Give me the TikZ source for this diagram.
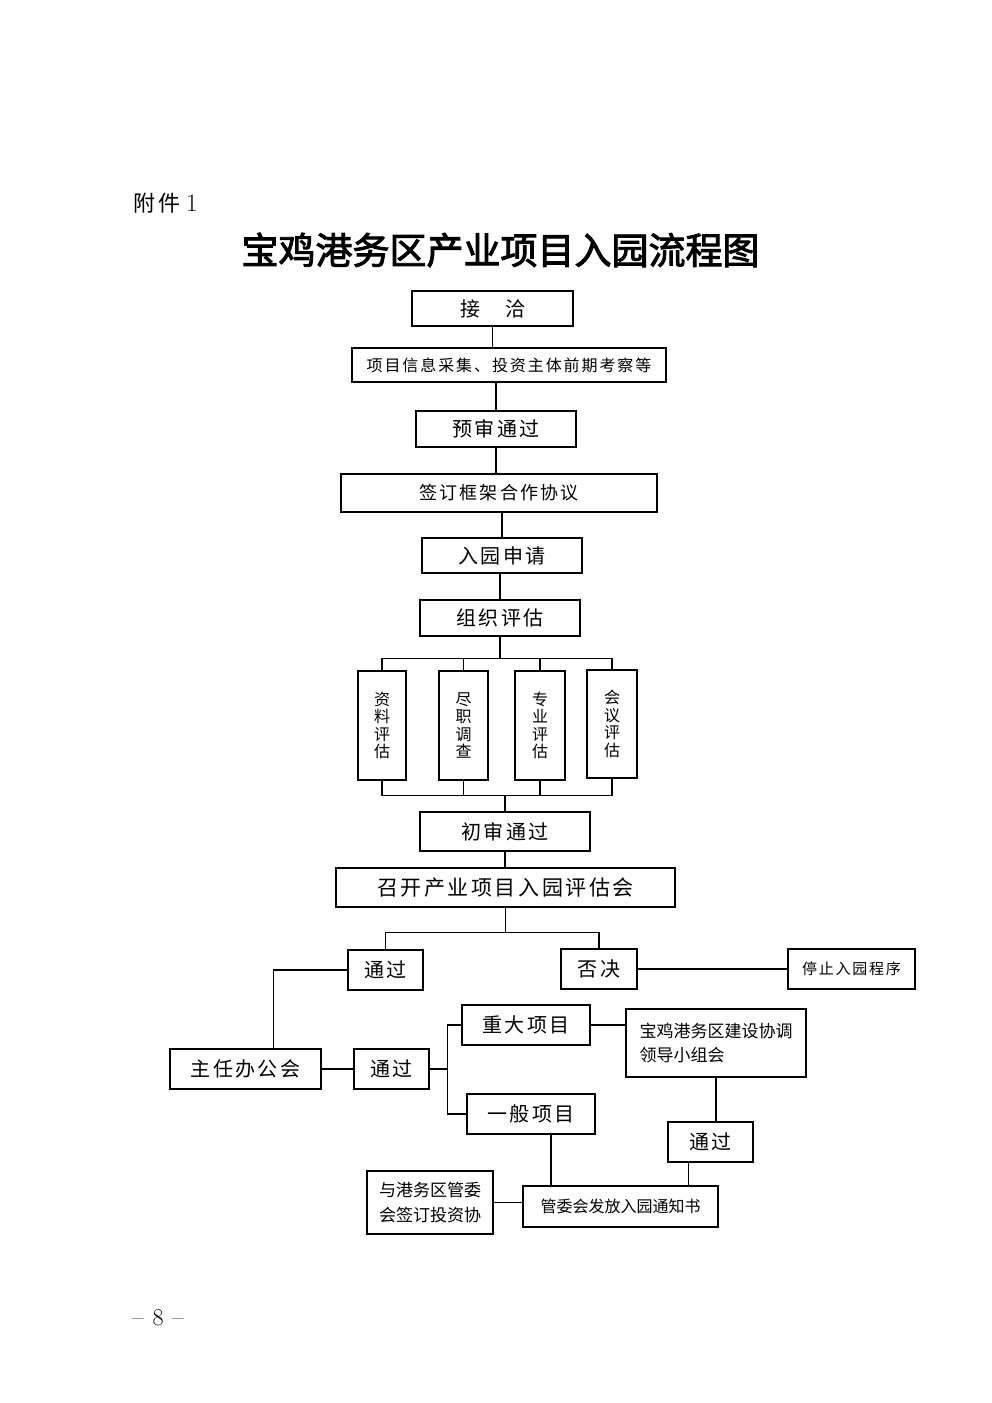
\documentclass[tikz,border=0pt]{standalone}
\usepackage{fontspec}
\usepackage{tikz}
\newfontfamily\cjk{Noto Sans CJK SC}
\newfontfamily\cjksp[LetterSpace=12]{Noto Sans CJK SC}
\newfontfamily\cjkbf[FakeBold=2.5]{Noto Sans CJK SC}

\begin{document}
\begin{tikzpicture}[x=1pt,y=-1pt,line width=1.2pt]
\tikzstyle{every node}=[inner sep=0pt];
\tikzstyle{box}=[draw,shape=rectangle,font=\cjksp\fontsize{20}{24}\selectfont];
\tikzstyle{smallbox}=[draw,shape=rectangle,font=\cjksp\fontsize{16}{19}\selectfont];
\tikzstyle{midbox}=[draw,shape=rectangle,font=\cjksp\fontsize{18}{21}\selectfont];
\tikzstyle{vbox}=[draw,shape=rectangle,align=center,font=\cjk\fontsize{16}{17.5}\selectfont];
\tikzstyle{twoline}=[draw,shape=rectangle,align=left,font=\cjk\fontsize{17}{24.5}\selectfont];
\fill[white] (0,0) rectangle (992,1403);
\useasboundingbox (0,0) rectangle (992,1403);

% heading
\node[anchor=west,font=\fontsize{25}{28}\selectfont] (fujian) at (133,203) {{\cjksp\fontsize{22}{26}\selectfont 附件}\hspace{6pt}1};
\node[font=\cjkbf\fontsize{37}{41}\selectfont] (title) at (500.5,250) {宝鸡港务区产业项目入园流程图};

% main column
\node[box,minimum width=161,minimum height=35] (jieqia) at (492.5,308.5) {接\hspace{25pt}洽};
\node[smallbox,minimum width=314,minimum height=34] (xinxi) at (509,365) {项目信息采集、投资主体前期考察等};
\node[box,minimum width=160,minimum height=36] (yushen) at (496,429) {预审通过};
\node[midbox,minimum width=316,minimum height=38] (kuangjia) at (499,493) {签订框架合作协议};
\node[box,minimum width=160,minimum height=35] (shenqing) at (502,555.5) {入园申请};
\node[box,minimum width=160,minimum height=36] (zuzhi) at (500,618) {组织评估};

% four assessments
\node[vbox,minimum width=48,minimum height=109] (ziliao) at (382,725.5) {资\\料\\评\\估};
\node[vbox,minimum width=49,minimum height=109] (jinzhi) at (463.5,725.5) {尽\\职\\调\\查};
\node[vbox,minimum width=50,minimum height=109] (zhuanye) at (540,725.5) {专\\业\\评\\估};
\node[vbox,minimum width=50,minimum height=108] (huiyi) at (612,724) {会\\议\\评\\估};

\node[box,minimum width=170,minimum height=39] (chushen) at (505,831.5) {初审通过};
\node[box,font=\cjksp\fontsize{21}{25}\selectfont,minimum width=339,minimum height=39] (zhaokai) at (505.5,887.5) {召开产业项目入园评估会};

% decision
\node[box,minimum width=75,minimum height=40] (tongguo1) at (385.5,970) {通过};
\node[box,minimum width=76,minimum height=40] (foujue) at (599,969) {否决};
\node[draw,shape=rectangle,font=\cjksp\fontsize{15}{18}\selectfont,minimum width=127,minimum height=40] (tingzhi) at (851.5,969) {停止入园程序};
\node[box,minimum width=151,minimum height=40] (zhuren) at (245.5,1069) {主任办公会};
\node[box,minimum width=75,minimum height=40] (tongguo2) at (391.5,1069) {通过};
\node[box,minimum width=128,minimum height=40] (zhongda) at (526,1025) {重大项目};
\node[box,minimum width=128,minimum height=40] (yiban) at (531,1114) {一般项目};
\node[twoline,minimum width=180,minimum height=68] (xietiao) at (716,1043) {宝鸡港务区建设协调\\领导小组会};
\node[box,minimum width=85,minimum height=40] (tongguo3) at (710.5,1142) {通过};
\node[draw,shape=rectangle,font=\cjk\fontsize{16}{19}\selectfont,minimum width=195,minimum height=41] (tongzhi) at (620.5,1206.5) {管委会发放入园通知书};
\node[twoline,minimum width=126,minimum height=63] (qianding) at (430,1202.5) {与港务区管委\\会签订投资协};

% page number
\node[anchor=west,font=\fontsize{24}{28}\selectfont] (page) at (132,1318) {--\hspace{9pt}8\hspace{9pt}--};

% connectors
\coordinate (bustop) at ([yshift=-22pt]zuzhi.south);
\coordinate (busbot) at ([yshift=16pt]chushen.north);
\coordinate (busmid) at ([yshift=-25pt]zhaokai.south);
\coordinate (fork) at ([xshift=18pt]tongguo2.east);
\coordinate (zr) at ([xshift=28pt]zhuren.north);
\coordinate (yb) at ([xshift=20pt]yiban.south);
\coordinate (tg) at ([xshift=-22pt]tongguo3.south);

\draw (jieqia.south) -- (jieqia.south |- xinxi.north);
\draw (yushen.north |- xinxi.south) -- (yushen.north);
\draw (yushen.south) -- (yushen.south |- kuangjia.north);
\draw (shenqing.north |- kuangjia.south) -- (shenqing.north);
\draw (zuzhi.north |- shenqing.south) -- (zuzhi.north);
\draw (zuzhi.south) -- (bustop);
\draw (ziliao.north) -- (ziliao.north |- bustop) -- (huiyi.north |- bustop) -- (huiyi.north);
\draw (ziliao.south) -- (ziliao.south |- busbot) -- (huiyi.south |- busbot) -- (huiyi.south);
\foreach \n in {jinzhi,zhuanye} {
	\draw (\n.north) -- (\n.north |- bustop);
	\draw (\n.south) -- (\n.south |- busbot);
}
\draw (busbot) -- (chushen.north);
\draw (chushen.south) -- (chushen.south |- zhaokai.north);
\draw (zhaokai.south) -- (busmid);
\draw (tongguo1.north) -- (tongguo1.north |- busmid) -- (foujue.north |- busmid) -- (foujue.north);
\draw (foujue.east) -- (tingzhi.west);
\draw (tongguo1.west) -| (zr);
\draw (zhuren.east) -- (tongguo2.west);
\draw (tongguo2.east) -- (fork);
\draw (zhongda.west) -| (fork) |- (yiban.west);
\draw (zhongda.east) -- (zhongda.east -| xietiao.west);
\draw (xietiao.south) -- (xietiao.south |- tongguo3.north);
\draw (yb) -- (yb |- tongzhi.north);
\draw (tg) -- (tg |- tongzhi.north);
\draw (qianding.east) -- (qianding.east -| tongzhi.west);
\end{tikzpicture}
\end{document}
